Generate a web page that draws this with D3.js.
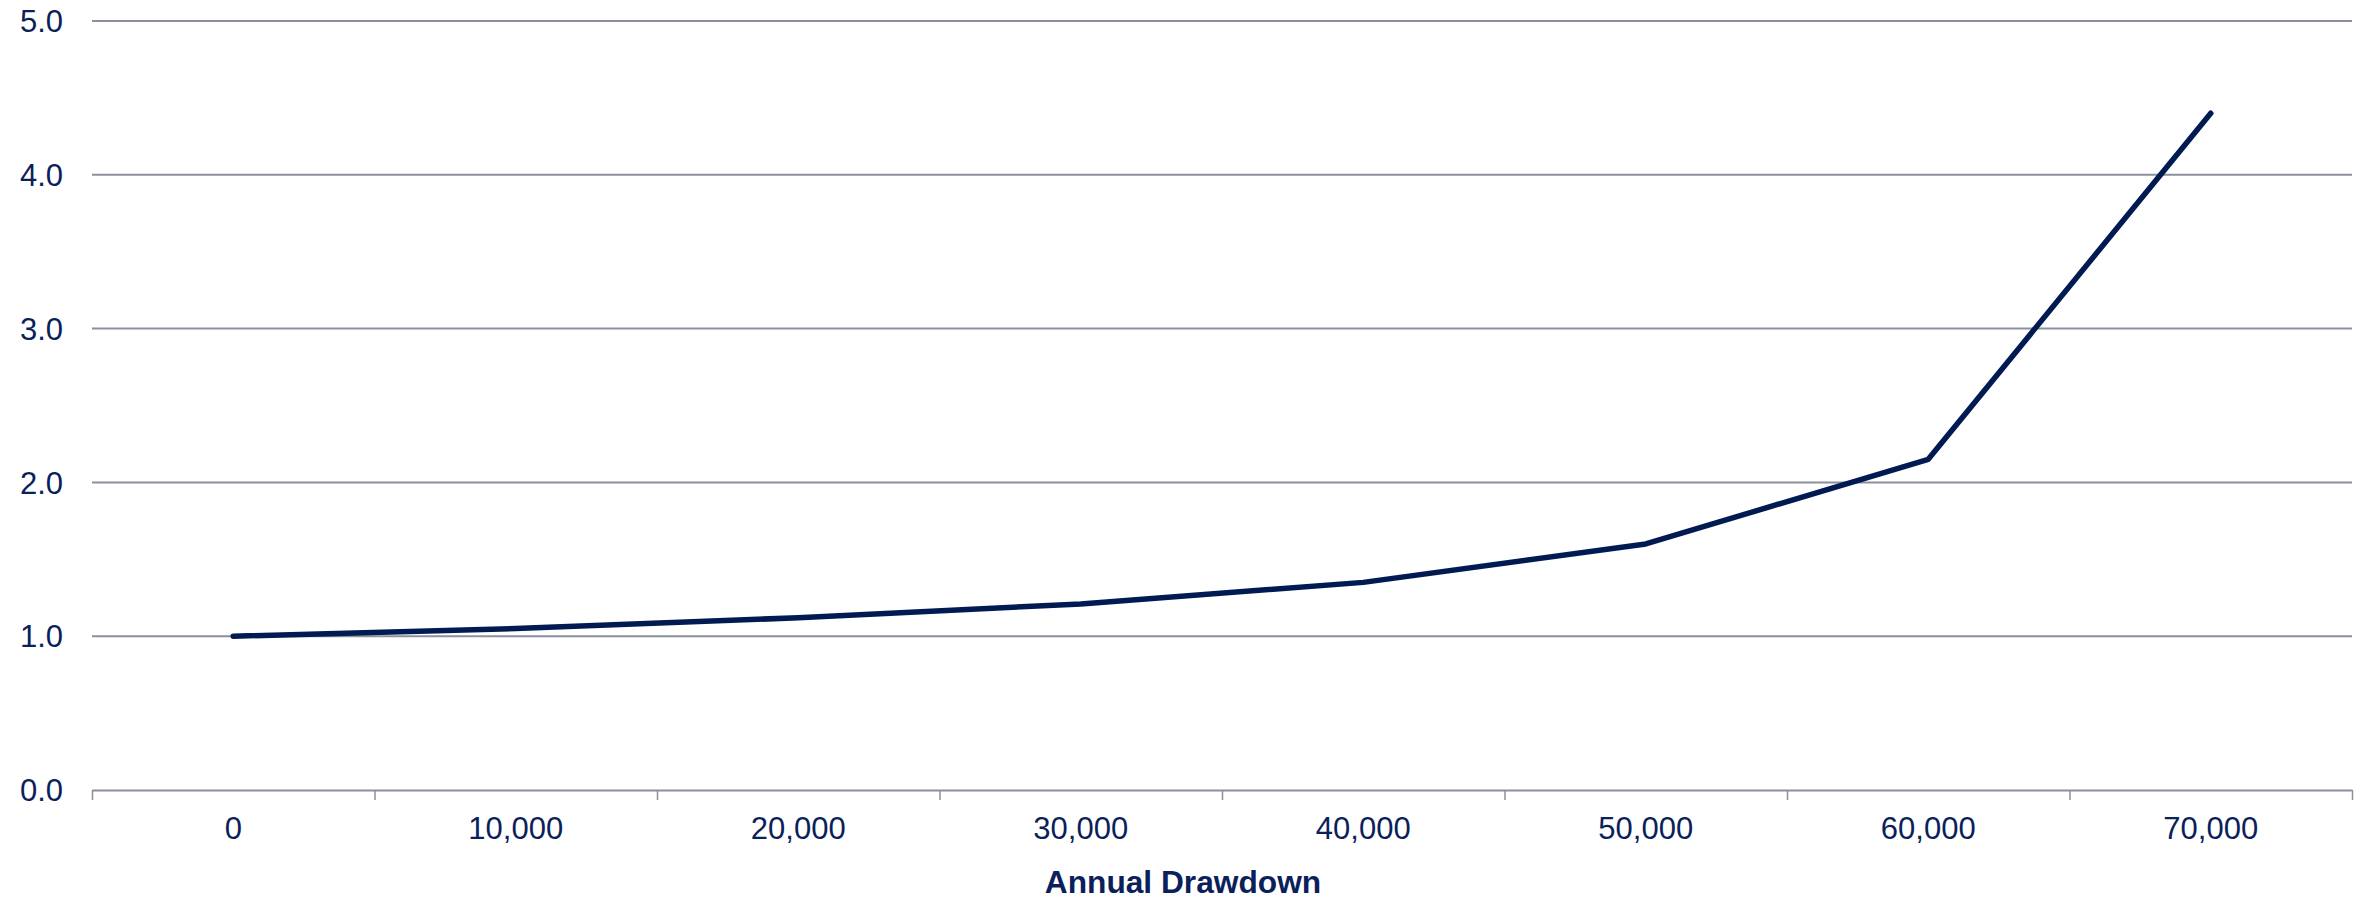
<!DOCTYPE html>
<html>
<head>
<meta charset="utf-8">
<script src="https://cdn.jsdelivr.net/npm/d3@7"></script>
<style>
  html, body { margin: 0; padding: 0; background: #ffffff; }
  svg { display: block; }
  text { font-family: "Liberation Sans", Arial, sans-serif; }
</style>
</head>
<body>
<script>
// ---- data ----
const drawdowns = [0, 10000, 20000, 30000, 40000, 50000, 60000, 70000];
const ratios    = [1.00, 1.05, 1.12, 1.21, 1.35, 1.60, 2.15, 4.40];
const yTicks    = [0, 1, 2, 3, 4, 5];
const xTickEdges = [-5000, 5000, 15000, 25000, 35000, 45000, 55000, 65000, 75000];
const xAxisTitle = "Annual Drawdown";

// ---- layout ----
const W = 2363, H = 901;
const plotLeft = 92, plotRight = 2352, plotTop = 21, plotBottom = 790;
const textColor = "#0b1f5b";
const lineColor = "#021a52";
const gridColor = "#8d8f9d";

const svg = d3.select("body").append("svg")
  .attr("width", W).attr("height", H);

const x = d3.scaleLinear().domain([-5000, 75000]).range([plotLeft, plotRight]);
const y = d3.scaleLinear().domain([0, 5]).range([plotBottom, plotTop]);

// gridlines
svg.append("g")
  .selectAll("line")
  .data(yTicks.filter(d => d > 0))
  .join("line")
  .attr("x1", plotLeft).attr("x2", plotRight)
  .attr("y1", d => y(d)).attr("y2", d => y(d))
  .attr("stroke", gridColor).attr("stroke-width", 2);

// y labels
svg.append("g")
  .selectAll("text")
  .data(yTicks)
  .join("text")
  .attr("x", 63)
  .attr("y", d => y(d))
  .attr("dy", "0.36em")
  .attr("text-anchor", "end")
  .attr("font-size", 31)
  .attr("fill", textColor)
  .text(d => d3.format(".1f")(d));

// x axis line + tick marks at category edges
const xAxis = d3.axisBottom(x)
  .tickValues(xTickEdges)
  .tickSize(10)
  .tickSizeOuter(0)
  .tickFormat("");
const gx = svg.append("g")
  .attr("transform", `translate(0,${plotBottom})`)
  .call(xAxis);
gx.select(".domain").attr("stroke", gridColor).attr("stroke-width", 2);
gx.selectAll(".tick line").attr("stroke", gridColor).attr("stroke-width", 1.5);

// x labels
svg.append("g")
  .selectAll("text")
  .data(drawdowns)
  .join("text")
  .attr("x", d => x(d))
  .attr("y", 839)
  .attr("text-anchor", "middle")
  .attr("font-size", 31)
  .attr("fill", textColor)
  .text(d => d3.format(",")(d));

// axis title
svg.append("text")
  .attr("x", 1183)
  .attr("y", 893)
  .attr("text-anchor", "middle")
  .attr("font-size", 31.7)
  .attr("font-weight", "bold")
  .attr("fill", textColor)
  .text(xAxisTitle);

// line
const line = d3.line()
  .x((d, i) => x(drawdowns[i]))
  .y(d => y(d));
svg.append("path")
  .datum(ratios)
  .attr("d", line)
  .attr("fill", "none")
  .attr("stroke", lineColor)
  .attr("stroke-width", 5.5)
  .attr("stroke-linecap", "round")
  .attr("stroke-linejoin", "round");
</script>
</body>
</html>
